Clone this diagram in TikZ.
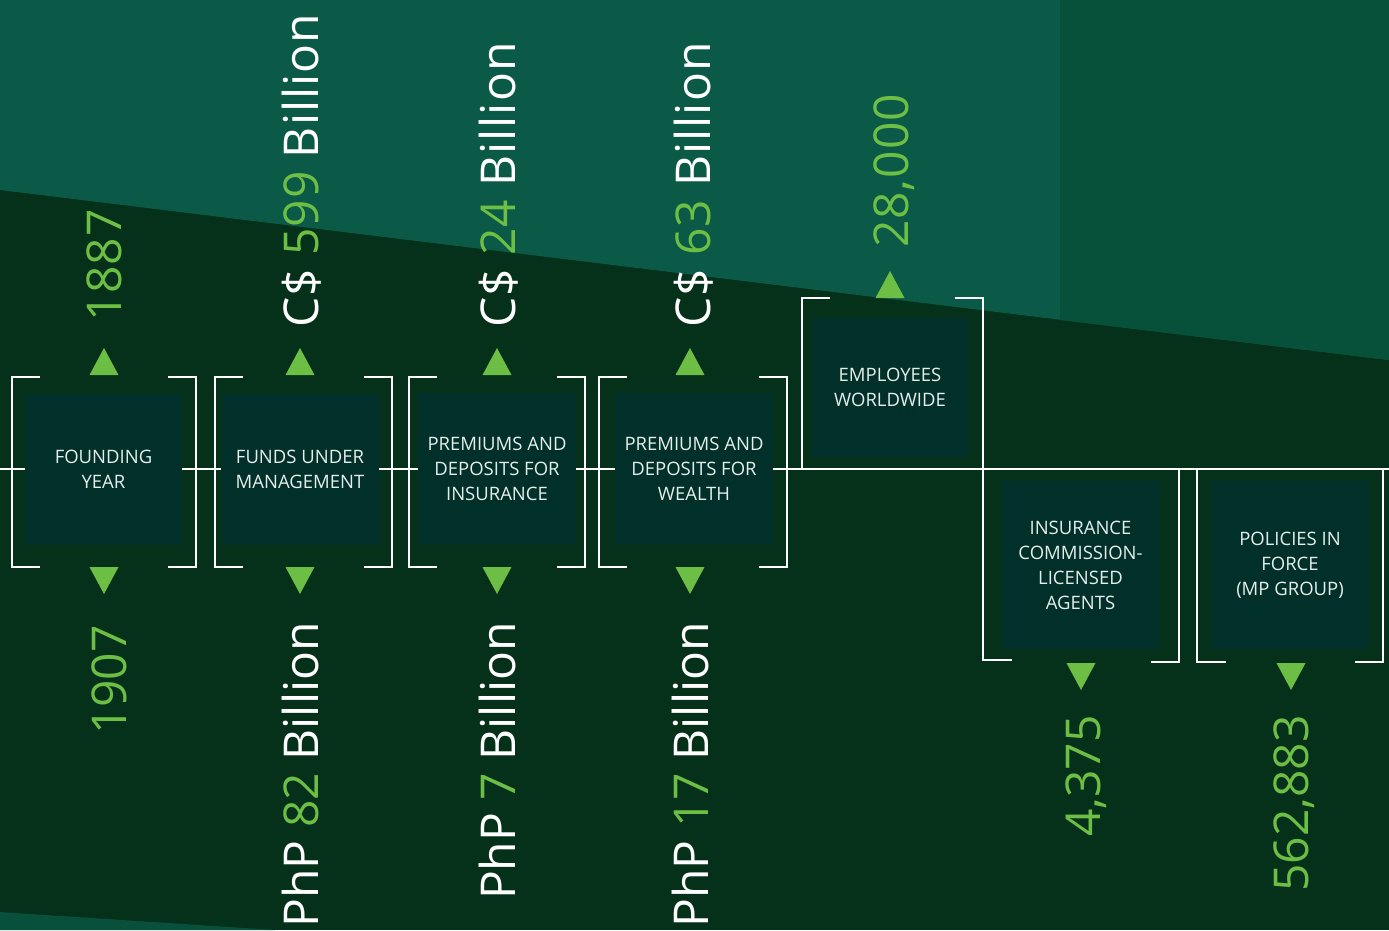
\documentclass[tikz,border=0pt]{standalone}
\usepackage{fontspec}
\setmainfont{Open Sans}
\definecolor{bgdark}{HTML}{05301A}
\definecolor{bgteal}{HTML}{0B5A47}
\definecolor{bgright}{HTML}{075039}
\definecolor{boxc}{HTML}{01302A}
\definecolor{lgreen}{HTML}{6DBE45}
\definecolor{boxtext}{HTML}{E6EEEA}
\tikzset{
  box/.style={fill=boxc, inner sep=0pt, align=center, text=boxtext, font=\fontsize{18.5}{25}\selectfont},
  bracket/.style={draw=white, line width=2.4pt},
  big/.style={rotate=90, inner sep=0pt, text=white, font=\fontsize{48}{58}\selectfont},
  bigtop/.style={big, font=\fontsize{48}{58}\selectfont\addfontfeatures{LetterSpace=2}},
  tri/.style={fill=lgreen},
}
\begin{document}
\begin{tikzpicture}[x=1pt,y=-1pt]
\useasboundingbox (0,0) rectangle (1389,930);
% background
\fill[bgdark] (0,0) rectangle (1389,930);
\fill[bgteal] (0,0) -- (1389,0) -- (1389,360) -- (0,190) -- cycle;
\fill[bgright] (1060,0) -- (1389,0) -- (1389,360) -- (1060,320) -- cycle;
\fill[bgteal!75!bgdark] (0,912) -- (275,930) -- (0,930) -- cycle;

% timeline
\draw[white, line width=2.4pt] (0,469) -- (1389,469);

% brackets
\draw[bracket] (40,377) -| (12,567) -- (40,567);
\draw[bracket] (168,377) -| (196,567) -- (168,567);
\draw[bracket] (243,377) -| (215,567) -- (243,567);
\draw[bracket] (364,377) -| (392,567) -- (364,567);
\draw[bracket] (437,377) -| (409,567) -- (437,567);
\draw[bracket] (557,377) -| (585,567) -- (557,567);
\draw[bracket] (627,377) -| (599,567) -- (627,567);
\draw[bracket] (759,377) -| (787,567) -- (759,567);
\draw[bracket] (830,298) -| (802,469);
\draw[bracket] (955,298) -| (983,660) -- (1012,660);
\draw[bracket] (1151,662) -| (1179,469);
\draw[bracket] (1226,662) -| (1197,469);
\draw[bracket] (1355,662) -| (1383,469);

% boxes
\node[box, minimum width=157pt, minimum height=151pt] (b1) at (103.5,469.5) {FOUNDING\\YEAR};
\node[box, minimum width=158pt, minimum height=151pt] (b2) at (300,469.5) {FUNDS UNDER\\MANAGEMENT};
\node[box, minimum width=158pt, minimum height=151pt] (b3) at (497,468.5) {PREMIUMS AND\\DEPOSITS FOR\\INSURANCE};
\node[box, minimum width=158pt, minimum height=151pt] (b4) at (694,468.5) {PREMIUMS AND\\DEPOSITS FOR\\WEALTH};
\node[box, minimum width=156pt, minimum height=139pt] (b5) at (890,387.5) {EMPLOYEES\\WORLDWIDE};
\node[box, minimum width=157pt, minimum height=168pt] (b6) at (1080.5,565) {INSURANCE\\COMMISSION-\\LICENSED\\AGENTS};
\node[box, minimum width=158pt, minimum height=168pt] (b7) at (1290,565) {POLICIES IN\\FORCE\\(MP GROUP)};

% triangles
\foreach \x in {104,300,497,690}{
  \fill[tri] (\x,348) -- (\x-14.5,375) -- (\x+14.5,375) -- cycle;
  \fill[tri] (\x,594) -- (\x-14.5,567) -- (\x+14.5,567) -- cycle;
}
\fill[tri] (890,271) -- (875.5,298) -- (904.5,298) -- cycle;
\foreach \x in {1081,1291}{
  \fill[tri] (\x,690) -- (\x-14.5,663) -- (\x+14.5,663) -- cycle;
}

% top values
\node[bigtop, anchor=base west] (t1) at (121,322) {\textcolor{lgreen}{1887}};
\node[bigtop, anchor=base west] (t2) at (318,328) {C\$ \textcolor{lgreen}{599} Billion};
\node[bigtop, anchor=base west] (t3) at (515,328) {C\$ \textcolor{lgreen}{24} Billion};
\node[bigtop, anchor=base west] (t4) at (710,328) {C\$ \textcolor{lgreen}{63} Billion};
\node[bigtop, anchor=base west] (t5) at (908,248) {\textcolor{lgreen}{28,000}};

% bottom values
\node[big, anchor=base east] (u1) at (126,625) {\textcolor{lgreen}{1907}};
\node[big, anchor=base east] (u2) at (318,622) {PhP \textcolor{lgreen}{82} Billion};
\node[big, anchor=base east] (u3) at (515,622) {PhP \textcolor{lgreen}{7} Billion};
\node[big, anchor=base east] (u4) at (708,622) {PhP \textcolor{lgreen}{17} Billion};
\node[big, anchor=base east] (u5) at (1100,715) {\textcolor{lgreen}{4,375}};
\node[big, anchor=base east] (u6) at (1308,715) {\textcolor{lgreen}{562,883}};
\end{tikzpicture}
\end{document}
